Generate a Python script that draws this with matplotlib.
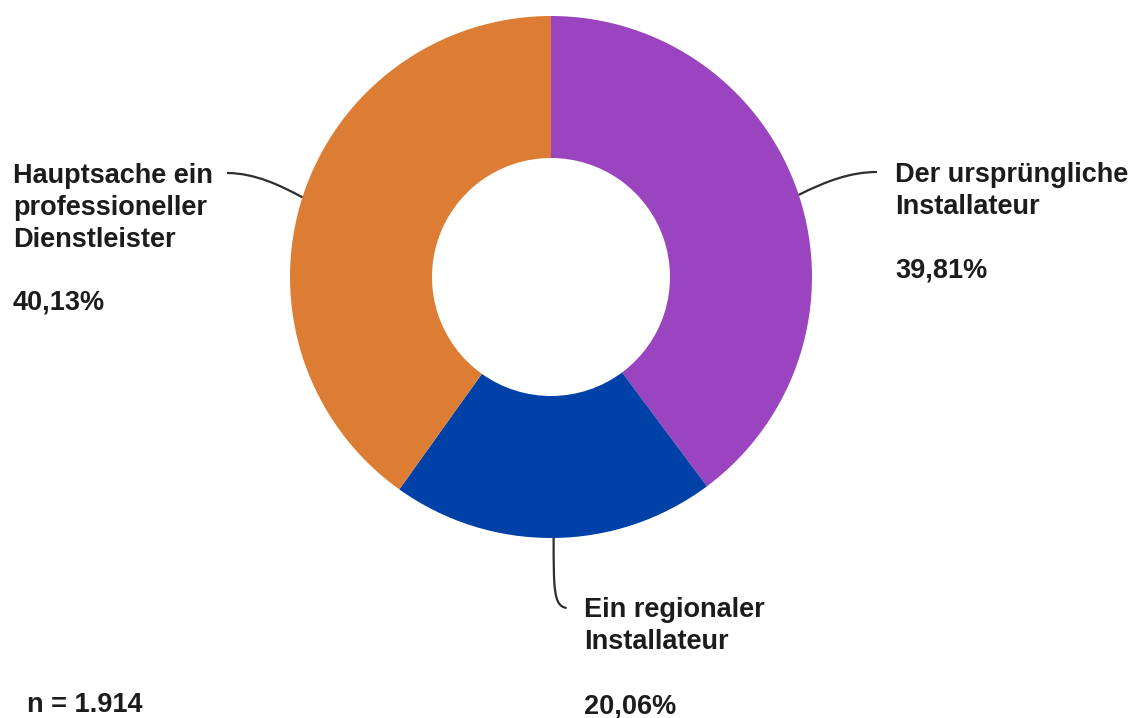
import matplotlib.pyplot as plt
from matplotlib.path import Path
from matplotlib.patches import PathPatch
import numpy as np

# survey answers (share in percent)
labels = [['Der ursprüngliche', 'Installateur'],
          ['Ein regionaler', 'Installateur'],
          ['Hauptsache ein', 'professioneller', 'Dienstleister']]
shares = [39.81, 20.06, 40.13]
share_text = ['39,81%', '20,06%', '40,13%']
colors = ['#9a44bf', '#0041a8', '#dc7d33']
sample_note = 'n = 1.914'

W, H = 1139, 718
fig = plt.figure(figsize=(W / 100, H / 100), dpi=100)
ax = fig.add_axes([0, 0, 1, 1])

cx, cy = 551, H - 277
r_out, r_in = 261, 119

wedges, _ = ax.pie(shares, colors=colors, startangle=90, counterclock=False,
                   radius=r_out, center=(cx, cy),
                   wedgeprops=dict(width=r_out - r_in, linewidth=0))
ax.set_xlim(0, W)
ax.set_ylim(0, H)
ax.set_aspect('equal')
ax.axis('off')

font = dict(family='Liberation Sans', fontweight='bold', fontsize=19.5,
            color='#1c1c1c', ha='left', va='baseline')
line_gap = 32


def edge_point(w):
    ang = np.deg2rad((w.theta1 + w.theta2) / 2)
    return cx + r_out * np.cos(ang), cy + r_out * np.sin(ang)


def leader(p0, c1, c2, p1):
    path = Path([p0, c1, c2, p1], [Path.MOVETO, Path.CURVE4, Path.CURVE4, Path.CURVE4])
    ax.add_patch(PathPatch(path, fill=False, color='#2e2e2e', lw=1.6))


def label_block(x, y_top, lines, pct, y_pct):
    # y values are baselines measured from the top edge
    for i, line in enumerate(lines):
        ax.text(x, H - (y_top + i * line_gap), line, **font)
    ax.text(x, H - y_pct, pct, **font)


# right label
x0, y0 = edge_point(wedges[0])
leader((x0, y0), (x0 + 28, y0 + 14), (x0 + 52, H - 172), (877, H - 172))
label_block(895, 182, labels[0], share_text[0], 277)

# bottom label
x1, y1 = edge_point(wedges[1])
leader((x1, y1), (x1, y1 - 52), (x1, y1 - 68), (x1 + 13, y1 - 70))
label_block(584, 617, labels[1], share_text[1], 713)

# left label
x2, y2 = edge_point(wedges[2])
leader((x2, y2), (x2 - 22, y2 + 12), (x2 - 48, H - 173), (227, H - 173))
label_block(13, 183, labels[2], share_text[2], 310)

ax.text(27, H - 712, sample_note, **font)

fig.savefig('out.png', dpi=100, facecolor='white')
